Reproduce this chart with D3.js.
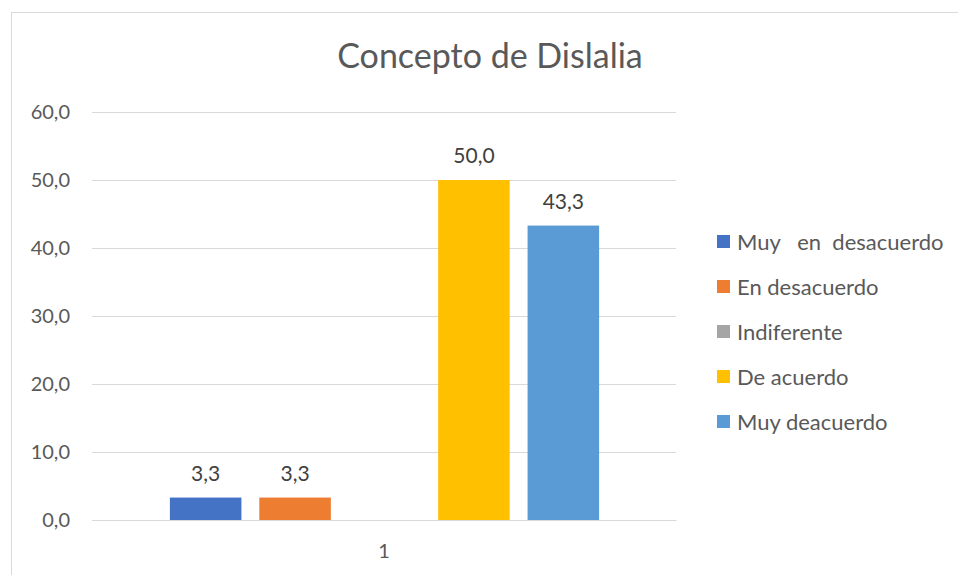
<!DOCTYPE html>
<html>
<head>
<meta charset="utf-8">
<script src="https://cdnjs.cloudflare.com/ajax/libs/d3/7.8.5/d3.min.js"></script>
<style>
  body { margin: 0; background: #fff; }
  text { font-family: Lato, "Open Sans", sans-serif; }
</style>
</head>
<body>
<div id="chart"></div>
<script>
const WIDTH = 958;
const HEIGHT = 575;

const title = "Concepto de Dislalia";
const categories = ["1"];
const series = ["Muy   en  desacuerdo", "En desacuerdo", "Indiferente", "De acuerdo", "Muy deacuerdo"];
const values = [3.3, 3.3, 0, 50.0, 43.3];
const colors = ["#4472c4", "#ed7d31", "#a5a5a5", "#ffc000", "#5b9bd5"];
const yTicks = [0, 10, 20, 30, 40, 50, 60];

const fmt = v => v.toFixed(1).replace(".", ",");

const svg = d3.select("#chart").append("svg")
    .attr("width", WIDTH)
    .attr("height", HEIGHT);

// marco del grafico
svg.append("rect")
    .attr("x", 11.5).attr("y", 12.5)
    .attr("width", 960).attr("height", 580)
    .attr("fill", "white")
    .attr("stroke", "#d9d9d9");

const plot = { left: 92, right: 676, top: 112, bottom: 520 };

const y = d3.scaleLinear()
    .domain([0, 60])
    .range([plot.bottom, plot.top]);

const x0 = d3.scaleBand()
    .domain(categories)
    .range([plot.left, plot.right]);

const x1 = d3.scaleBand()
    .domain(series)
    .range([60, 525])
    .padding(0.2);

// lineas de grilla
svg.append("g")
    .selectAll("line")
    .data(yTicks)
    .join("line")
    .attr("x1", plot.left)
    .attr("x2", plot.right)
    .attr("y1", d => Math.round(y(d)) + 0.5)
    .attr("y2", d => Math.round(y(d)) + 0.5)
    .attr("stroke", "#d9d9d9")
    .attr("stroke-width", 1);

// eje y
const yAxis = svg.append("g")
    .attr("transform", `translate(${plot.left - 22},0)`)
    .call(d3.axisLeft(y).tickValues(yTicks).tickFormat(fmt).tickSize(0).tickPadding(0));
yAxis.select(".domain").remove();
yAxis.selectAll("text")
    .attr("fill", "#595959")
    .style("font-size", "20px")
    .style("font-family", "Lato, 'Open Sans', sans-serif");

// eje x
const xAxis = svg.append("g")
    .attr("transform", `translate(0,${plot.bottom})`)
    .call(d3.axisBottom(x0).tickSize(0).tickPadding(24));
xAxis.select(".domain")
    .attr("stroke", "#d9d9d9");
xAxis.selectAll("text")
    .attr("fill", "#595959")
    .style("font-size", "20px")
    .style("font-family", "Lato, 'Open Sans', sans-serif");

// barras
const data = series.map((s, i) => ({ key: s, value: values[i], color: colors[i] }));

const group = svg.append("g")
    .attr("transform", `translate(${x0("1")},0)`);

group.selectAll("rect")
    .data(data)
    .join("rect")
    .attr("x", d => x1(d.key))
    .attr("y", d => y(d.value))
    .attr("width", x1.bandwidth())
    .attr("height", d => plot.bottom - y(d.value))
    .attr("fill", d => d.color);

group.selectAll("text.lbl")
    .data(data.filter(d => d.value > 0))
    .join("text")
    .attr("class", "lbl")
    .attr("x", d => x1(d.key) + x1.bandwidth() / 2)
    .attr("y", d => y(d.value) - 17)
    .attr("text-anchor", "middle")
    .attr("fill", "#404040")
    .style("font-size", "21px")
    .text(d => fmt(d.value));

// titulo
svg.append("text")
    .attr("x", 490)
    .attr("y", 68)
    .attr("text-anchor", "middle")
    .attr("fill", "#595959")
    .style("font-size", "34px")
    .text(title);

// leyenda
const legend = svg.append("g")
    .selectAll("g")
    .data(data)
    .join("g")
    .attr("transform", (d, i) => `translate(717,${242 + i * 45})`);

legend.append("rect")
    .attr("x", 0)
    .attr("y", -7)
    .attr("width", 13)
    .attr("height", 13)
    .attr("fill", d => d.color);

legend.append("text")
    .attr("x", 20)
    .attr("y", 0)
    .attr("dy", "0.35em")
    .attr("fill", "#595959")
    .style("font-size", "22px")
    .style("white-space", "pre")
    .attr("xml:space", "preserve")
    .text(d => d.key);
</script>
</body>
</html>
